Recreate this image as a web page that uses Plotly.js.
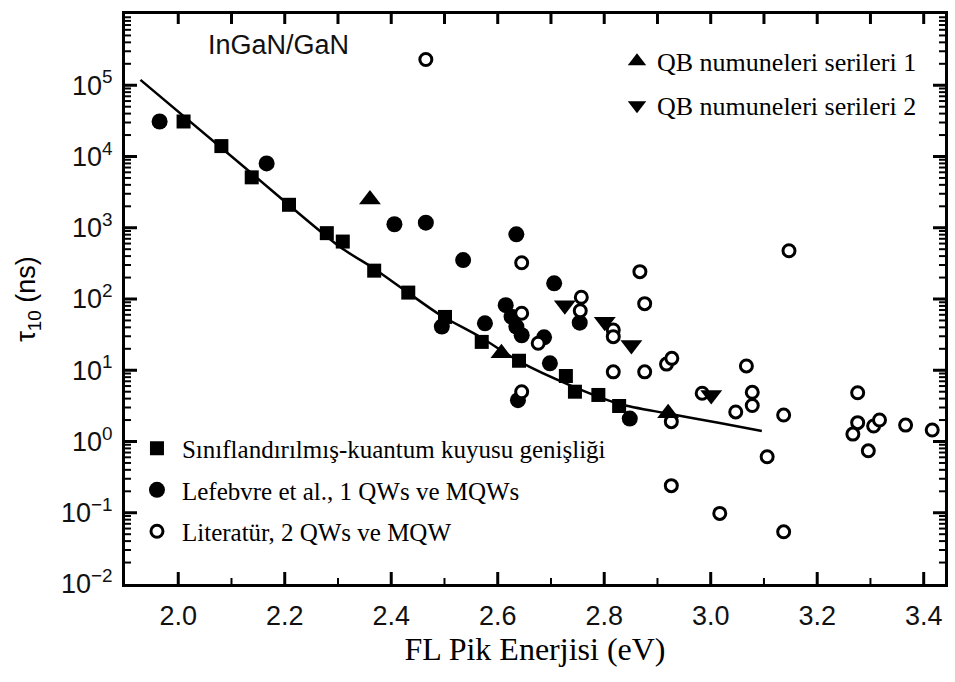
<!DOCTYPE html>
<html>
<head>
<meta charset="utf-8">
<script src="https://cdn.plot.ly/plotly-3.0.1.min.js"></script>
<style>html,body{margin:0;padding:0;background:#fff;}#chart{width:955px;height:682px;}</style>
</head>
<body>
<div id="chart"></div>
<script>
// Sınıflandırılmış-kuantum kuyusu genişliği (filled squares)
const sqX = [2.01, 2.081, 2.138, 2.208, 2.279, 2.309, 2.368, 2.432, 2.501, 2.570, 2.640, 2.728, 2.745, 2.789, 2.828];
const sqY = [3.1e4, 1.4e4, 5.1e3, 2.1e3, 840, 640, 250, 123, 56, 25, 13.6, 8.3, 5.0, 4.5, 3.15];
// Lefebvre et al. (filled circles)
const fcX = [1.965, 2.166, 2.406, 2.465, 2.535, 2.495, 2.576, 2.615, 2.626, 2.635, 2.645, 2.635, 2.687, 2.706, 2.698, 2.754, 2.848, 2.638];
const fcY = [3.1e4, 8.0e3, 1120, 1180, 352, 41, 45.6, 82, 56.5, 41, 31, 809, 29, 166, 12.5, 46.5, 2.1, 3.8];
// Literatür (open circles)
const ocX = [2.465, 2.645, 2.645, 2.676, 2.757, 2.755, 2.817, 2.817, 2.817, 2.867, 2.876, 2.876, 2.645, 2.917, 2.927, 2.926, 2.926, 2.984, 3.017, 3.047, 3.067, 3.078, 3.078, 3.106, 3.137, 3.137, 3.147, 3.267, 3.276, 3.276, 3.296, 3.306, 3.317, 3.366, 3.416];
const ocY = [2.3e5, 323, 63, 23.9, 106, 68.5, 36.7, 29.6, 9.5, 242, 86, 9.5, 5.0, 12.2, 14.7, 1.9, 0.24, 4.75, 0.098, 2.6, 11.5, 4.9, 3.2, 0.61, 2.35, 0.054, 476, 1.27, 4.84, 1.84, 0.74, 1.65, 2.0, 1.7, 1.45];
// QB series 1 (triangle up) and 2 (triangle down)
const tuX = [2.360, 2.607, 2.920];
const tuY = [2500, 17.3, 2.5];
const tdX = [2.726, 2.801, 2.851, 3.001];
const tdY = [82, 48, 22.6, 4.5];
// fit curve
const fitX = [1.929, 2.126, 2.304, 2.366, 2.430, 2.492, 2.567, 2.642, 2.735, 2.829, 2.919, 3.017, 3.096];
const fitY = [1.19e5, 6.9e3, 537, 272, 125, 59.6, 29.3, 13.1, 6.2, 3.36, 2.47, 1.82, 1.40];
// axis ticks
const xTickVals = [2.0, 2.2, 2.4, 2.6, 2.8, 3.0, 3.2, 3.4];
const xMinorVals = [2.1, 2.3, 2.5, 2.7, 2.9, 3.1, 3.3];
const yTickVals = [0.01, 0.1, 1, 10, 100, 1000, 1e4, 1e5, 1e6];
const yTickText = ['10<sup>\u22122</sup>', '10<sup>\u22121</sup>', '10<sup>0</sup>', '10<sup>1</sup>', '10<sup>2</sup>', '10<sup>3</sup>', '10<sup>4</sup>', '10<sup>5</sup>', '10<sup>6</sup>'];
const yMinorVals = [];
for (let e = -2; e < 6; e++) { for (let m = 2; m <= 9; m++) yMinorVals.push(m * Math.pow(10, e)); }

const serif = 'Times New Roman';
const sans = 'Arial';
const xRange = [1.9, 3.44];
const yRange = [-2, 6];

// inward tick marks (axis decoration) built from the tick arrays, lengths in pixels
const plotW = 820, plotH = 570;
const pxX = (xRange[1] - xRange[0]) / plotW;      // x data units per pixel
const pxDec = (yRange[1] - yRange[0]) / plotH;    // decades per pixel
const yLo = Math.pow(10, yRange[0]), yHi = Math.pow(10, yRange[1]);
function buildTicks(xMaj, xTop, yMaj, lenMajor, lenTop) {
  const tx = [], ty = [];
  xMaj.forEach(v => { tx.push(v, v, null); ty.push(yLo, yLo * Math.pow(10, lenMajor * pxDec), null); });
  xTop.forEach(v => { tx.push(v, v, null); ty.push(yHi, yHi / Math.pow(10, lenTop * pxDec), null); });
  yMaj.forEach(v => {
    tx.push(xRange[0], xRange[0] + lenMajor * pxX, null); ty.push(v, v, null);
    tx.push(xRange[1], xRange[1] - lenMajor * pxX, null); ty.push(v, v, null);
  });
  return {tx, ty};
}
const majorTicks = buildTicks(xTickVals, xTickVals.concat(xMinorVals), yTickVals.slice(1, -1), 12, 10);
const minorTicks = buildTicks(xMinorVals, [], yMinorVals, 6, 0);

const traces = [
  {x: majorTicks.tx, y: majorTicks.ty, mode: 'lines', line: {color: 'black', width: 3}, showlegend: false, hoverinfo: 'skip', connectgaps: false},
  {x: minorTicks.tx, y: minorTicks.ty, mode: 'lines', line: {color: 'black', width: 2}, showlegend: false, hoverinfo: 'skip', connectgaps: false},
  {x: fitX, y: fitY, mode: 'lines', line: {color: 'black', width: 2.5, shape: 'spline', smoothing: 0.8}, showlegend: false, hoverinfo: 'skip'},
  {x: sqX, y: sqY, mode: 'markers', name: 'Sınıflandırılmış-kuantum kuyusu genişliği', legend: 'legend2', legendgroup: 'a',
   marker: {symbol: 'square', size: 14, color: 'black'}},
  {x: fcX, y: fcY, mode: 'markers', name: 'Lefebvre et al., 1 QWs ve MQWs', legend: 'legend2', legendgroup: 'b',
   marker: {symbol: 'circle', size: 16, color: 'black'}},
  {x: ocX, y: ocY, mode: 'markers', name: 'Literatür, 2 QWs ve MQW', legend: 'legend2', legendgroup: 'c',
   marker: {symbol: 'circle', size: 12, color: 'white', line: {color: 'black', width: 3}}},
  {x: tuX, y: tuY, mode: 'markers', name: 'QB numuneleri serileri 1', legend: 'legend', legendgroup: 'd',
   marker: {symbol: 'triangle-up', size: 19, color: 'black'}},
  {x: tdX, y: tdY, mode: 'markers', name: 'QB numuneleri serileri 2', legend: 'legend', legendgroup: 'e',
   marker: {symbol: 'triangle-down', size: 19, color: 'black'}}
];

const layout = {
  width: 955, height: 682,
  margin: {l: 125, r: 10, t: 14, b: 98},
  paper_bgcolor: 'white', plot_bgcolor: 'white',
  font: {family: sans, color: 'black'},
  showlegend: true,
  xaxis: {
    range: xRange, tickmode: 'array', tickvals: xTickVals, tickformat: '.1f', ticks: '',
    showline: true, linewidth: 3, linecolor: 'black', mirror: true,
    showgrid: false, zeroline: false,
    tickfont: {family: sans, size: 27, color: '#111'},
    ticklabelstandoff: 6,
    title: {text: 'FL Pik Enerjisi (eV)', font: {family: serif, size: 32, color: 'black'}, standoff: 8}
  },
  yaxis: {
    type: 'log', range: yRange, tickmode: 'array', tickvals: yTickVals, ticktext: yTickText, ticks: '',
    showline: true, linewidth: 3, linecolor: 'black', mirror: true,
    showgrid: false, zeroline: false,
    tickfont: {family: sans, size: 27, color: '#111'},
    ticklabelstandoff: 4,
    title: {text: '\u03c4<sub>10</sub> (ns)', font: {family: sans, size: 27, color: 'black'}, standoff: 18}
  },
  legend: {
    x: 0.6, y: 0.958, xanchor: 'left', yanchor: 'top', bgcolor: 'rgba(0,0,0,0)',
    font: {family: serif, size: 26, color: 'black'}, traceorder: 'grouped', tracegroupgap: 7,
    borderwidth: 0
  },
  legend2: {
    x: 0.0085, y: 0.278, xanchor: 'left', yanchor: 'top', bgcolor: 'rgba(0,0,0,0)',
    font: {family: serif, size: 25, color: 'black'}, traceorder: 'grouped', tracegroupgap: 6,
    borderwidth: 0, itemwidth: 40
  },
  annotations: [
    {text: 'InGaN/GaN', xref: 'paper', yref: 'paper', x: 0.1866, y: 0.9456, xanchor: 'center', yanchor: 'middle',
     showarrow: false, font: {family: sans, size: 27, color: '#111'}}
  ]
};

Plotly.newPlot('chart', traces, layout, {displayModeBar: false, staticPlot: true});
</script>
</body>
</html>
